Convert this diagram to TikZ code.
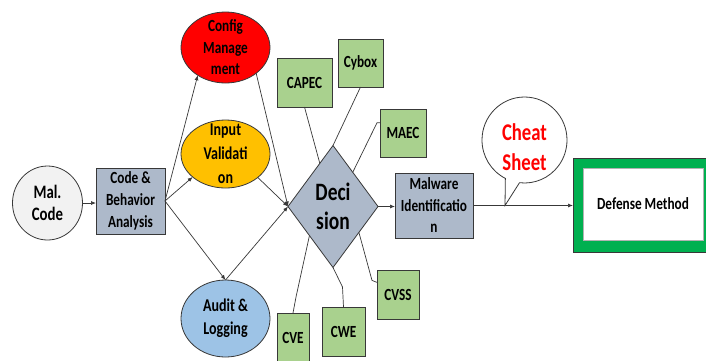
\documentclass[tikz,border=0pt]{standalone}
\usepackage{fontspec}
\newfontfamily\lblfont{Carlito}[FakeStretch=0.78]
\usetikzlibrary{shapes.geometric,shapes.callouts,arrows.meta,calc}

\definecolor{slate}{HTML}{ADB9CA}
\definecolor{leaf}{HTML}{A9D18E}
\definecolor{amber}{HTML}{FFC000}
\definecolor{sky}{HTML}{9DC3E6}
\definecolor{paper}{HTML}{F2F2F2}
\definecolor{frame}{HTML}{00B050}
\definecolor{ink}{HTML}{383838}

\begin{document}
\begin{tikzpicture}[x=1pt,y=-1pt,
  every node/.style={inner sep=0pt, outer sep=0pt, align=center, text=black},
  txt/.style 2 args={font={\fontsize{#1}{#2}\selectfont\lblfont\bfseries}},
  ell/.style={ellipse, draw=ink, line width=0.8pt},
  box/.style={rectangle, draw=ink, line width=0.8pt},
  greenbox/.style={box, fill=leaf, txt={17}{20}},
  link/.style={draw=ink, line width=0.7pt},
  arr/.style={link, -{Latex[length=5pt,width=4pt]}}
]
\fill[white] (0,0) rectangle (706,360);
\useasboundingbox (0,0) rectangle (706,360);

% main flow
\node[ell, fill=paper, minimum width=70pt, minimum height=74pt,
      label={[txt={19}{22}]center:{Mal.\\Code}}] (mal) at (47.5,203) {};
\node[box, fill=slate, minimum width=69pt, minimum height=66pt, txt={17}{22}]
      (cba) at (130.5,201) {Code \&\\Behavior\\Analysis};

% security controls
\node[ell, fill=red, minimum width=89pt, minimum height=71pt,
      label={[txt={17}{21.5}]center:{Config\\Manage\\ment}}] (cfg) at (225.5,47.5) {};
\node[ell, fill=amber, minimum width=89pt, minimum height=68pt,
      label={[txt={18}{24}]center:{Input\\Validati\\on}}] (inp) at (225.5,154) {};
\node[ell, fill=sky, minimum width=89pt, minimum height=77pt,
      label={[txt={18}{23}]center:{Audit \&\\Logging}}] (aud) at (225.5,318.5) {};

% decision
\node[diamond, draw=ink, line width=0.8pt, fill=slate, aspect=0.74,
      minimum width=90pt, minimum height=122pt,
      label={[txt={25}{29}]center:{Deci\\sion}}] (dec) at (333,206.5) {};

% knowledge sources
\node[greenbox, minimum width=55pt, minimum height=49pt] (capec) at (304.5,82.5) {CAPEC};
\node[greenbox, minimum width=45pt, minimum height=48pt] (cybox) at (360.5,63) {Cybox};
\node[greenbox, minimum width=46pt, minimum height=48pt] (maec) at (403,133) {MAEC};
\node[greenbox, minimum width=42pt, minimum height=49pt] (cvss) at (398,294.5) {CVSS};
\node[greenbox, minimum width=32pt, minimum height=50pt] (cve) at (293,338) {CVE};
\node[greenbox, minimum width=43pt, minimum height=49pt] (cwe) at (343.5,331.5) {CWE};

% identification and outcome
\node[box, fill=slate, minimum width=78pt, minimum height=65pt, txt={17}{21.5}]
      (malid) at (434,205.5) {Malware\\Identificatio\\n};
\node[box, fill=frame, minimum width=140pt, minimum height=94pt] (defout) at (643,205) {};
\node[rectangle, draw=gray!60, line width=0.6pt, fill=white, minimum width=120pt,
      minimum height=72pt, txt={17}{20}] (def) at (643,204) {Defense Method};

% connectors
\draw[arr] (mal.east) -- (mal.east -| cba.west);
\draw[arr] (cba.east) -- (cfg.225);
\draw[arr] (cba.east) -- (inp.215);
\draw[arr] (cba.east) -- (aud.north);
\draw[arr] (cfg.-40) -- (dec.west);
\draw[arr] (inp.-36) -- (dec.west);
\draw[arr] (aud.north) -- (dec.west);

\draw[link] (capec.south) -- (dec.107);
\draw[link] (cybox.south) -- (dec.north);
\draw[link] (maec.156) -- ++(-3,0) -- (dec.60);
\draw[link] (cvss.150) -- ++(-5,-2) -- (dec.-45);
\draw[link] (cwe.north) -- ++(-1,-20) -- (dec.south);
\draw[link] (cve.north) -- ++(3,-16) -- (dec.-129);

\draw[arr] (dec.east) -- (dec.east -| malid.west);
\draw[arr] (malid.east) -- (malid.east -| defout.west);
\coordinate (tip) at ($(malid.east)!0.32!(malid.east -| defout.west)$);

% callout
\node[ellipse callout, draw=ink, line width=0.8pt, fill=white,
      minimum width=85pt, minimum height=86pt,
      callout absolute pointer={(tip)}, callout pointer arc=20] (cheat) at (524.5,140) {};
\node[txt={24}{30}, text=red] (cheattxt) at ([yshift=-7pt]cheat.center) {Cheat\\Sheet};
\end{tikzpicture}
\end{document}
